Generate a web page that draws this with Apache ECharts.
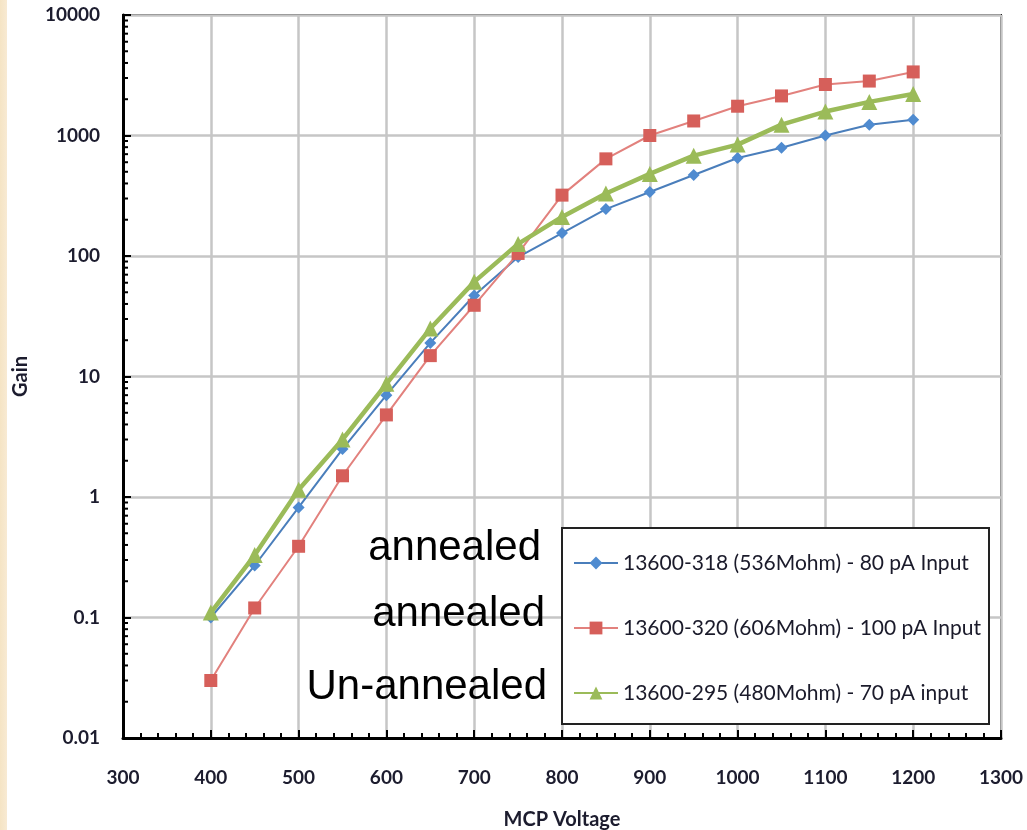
<!DOCTYPE html>
<html>
<head>
<meta charset="utf-8">
<script src="https://cdn.jsdelivr.net/npm/echarts@6/dist/echarts.min.js"></script>
<style>
  html, body { margin: 0; padding: 0; overflow: hidden; }
  body { width: 1027px; height: 830px; background: linear-gradient(to right, #f5e4c4 0px, #f8ead3 7px, #ffffff 7px); }
  #chart { width: 1027px; height: 830px; }
</style>
</head>
<body>
<div id="chart"></div>
<script>
// ---- data ----
const voltages = [400, 450, 500, 550, 600, 650, 700, 750, 800, 850, 900, 950, 1000, 1050, 1100, 1150, 1200];
const gain318 = [0.10, 0.27, 0.82, 2.5, 7.0, 19, 47, 98, 155, 245, 340, 470, 650, 790, 1000, 1230, 1350];
const gain320 = [0.030, 0.12, 0.39, 1.5, 4.8, 14.9, 39, 105, 320, 640, 1000, 1320, 1750, 2130, 2650, 2830, 3370];
const gain295 = [0.11, 0.33, 1.15, 3.0, 8.7, 25, 61, 126, 211, 330, 480, 680, 840, 1230, 1580, 1900, 2210];
const seriesNames = [
  '13600-318 (536Mohm) - 80 pA Input',
  '13600-320 (606Mohm) - 100 pA Input',
  '13600-295 (480Mohm) - 70 pA input'
];
const annotations = ['annealed', 'annealed', 'Un-annealed'];
const yTickLabels = ['0.01', '0.1', '1', '10', '100', '1000', '10000'];
const yDecades = [0.01, 0.1, 1, 10, 100, 1000];
const minorMultipliers = [2, 3, 4, 5, 6, 7, 8, 9];
const xLabelName = 'MCP Voltage';
const yLabelName = 'Gain';

const pair = (ys) => voltages.map((v, i) => [v, ys[i]]);
const minorTickData = [];
yDecades.forEach(d => minorMultipliers.forEach(m => minorTickData.push([300, m * d])));

const chart = echarts.init(document.getElementById('chart'), null, { renderer: 'canvas' });
const labelFont = { fontFamily: 'Lato', fontWeight: 'bold', color: '#1c1c2e' };
const annoFont = '42px "Liberation Sans", Arial, sans-serif';

const option = {
  animation: false,
  backgroundColor: 'transparent',
  grid: { left: 123, top: 15, width: 878, height: 723, show: true, borderColor: '#222', borderWidth: 2, backgroundColor: 'transparent', containLabel: false, outerBoundsMode: 'none' },
  xAxis: {
    type: 'value', min: 300, max: 1300, interval: 100,
    name: xLabelName, nameLocation: 'middle', nameGap: 72,
    nameTextStyle: Object.assign({ fontSize: 20 }, labelFont),
    axisLine: { show: true, lineStyle: { color: '#000', width: 3 } },
    axisTick: { show: true, inside: true, length: 8, lineStyle: { color: '#000', width: 2 } },
    minorTick: { show: true, splitNumber: 5, length: 5, lineStyle: { color: '#000', width: 2 } },
    axisLabel: Object.assign({ fontSize: 19, margin: 30, formatter: (v) => String(v) }, labelFont),
    splitLine: { show: true, lineStyle: { color: '#c6c6c6', width: 2.5 } }
  },
  yAxis: {
    type: 'log', logBase: 10, min: 0.01, max: 10000,
    name: yLabelName, nameLocation: 'middle', nameGap: 92, nameRotate: 90,
    nameTextStyle: Object.assign({ fontSize: 20 }, labelFont),
    axisLine: { show: true, lineStyle: { color: '#000', width: 3 } },
    axisTick: { show: true, inside: true, length: 8, lineStyle: { color: '#000', width: 2 } },
    axisLabel: Object.assign({
      fontSize: 19, margin: 23, padding: [6, 0, 0, 0],
      formatter: (v) => {
        const idx = Math.round(Math.log10(v)) + 2;
        return yTickLabels[idx] !== undefined ? yTickLabels[idx] : '';
      }
    }, labelFont),
    splitLine: { show: true, lineStyle: { color: '#c6c6c6', width: 2.5 } }
  },
  legend: {
    show: true, orient: 'vertical', left: 568, top: 545, z: 20,
    itemWidth: 44, itemHeight: 16, itemGap: 39,
    textStyle: { fontFamily: 'Lato', fontSize: 21, color: '#1a1a2a', lineHeight: 26 },
    data: seriesNames
  },
  graphic: [
    { type: 'rect', shape: { x: 562, y: 528, width: 427, height: 196 }, style: { fill: '#fff', stroke: '#222', lineWidth: 2 }, z: 5, silent: true },
    { type: 'text', x: 541, y: 569, style: { text: annotations[0], font: annoFont, fill: '#000', textAlign: 'right', textVerticalAlign: 'bottom' }, z: 20 },
    { type: 'text', x: 545, y: 635, style: { text: annotations[1], font: annoFont, fill: '#000', textAlign: 'right', textVerticalAlign: 'bottom' }, z: 20 },
    { type: 'text', x: 547, y: 708, style: { text: annotations[2], font: annoFont, fill: '#000', textAlign: 'right', textVerticalAlign: 'bottom' }, z: 20 }
  ],
  series: [
    {
      name: seriesNames[0], type: 'line', data: pair(gain318),
      symbol: 'diamond', symbolSize: 12,
      lineStyle: { color: '#4a7ebb', width: 2 },
      itemStyle: { color: '#4f8bd0' }, z: 3
    },
    {
      name: seriesNames[1], type: 'line', data: pair(gain320),
      symbol: 'rect', symbolSize: 13,
      lineStyle: { color: '#e2817d', width: 2 },
      itemStyle: { color: '#d65f5a' }, z: 3
    },
    {
      name: seriesNames[2], type: 'line', data: pair(gain295),
      symbol: 'triangle', symbolSize: 16,
      lineStyle: { color: '#9bbb59', width: 4.5 },
      itemStyle: { color: '#9bbb59' }, z: 4
    },
    {
      type: 'custom', silent: true, clip: false, z: 6,
      data: minorTickData,
      renderItem: (params, api) => {
        const p = api.coord([api.value(0), api.value(1)]);
        return { type: 'line', shape: { x1: p[0], y1: p[1], x2: p[0] + 5, y2: p[1] }, style: { stroke: '#000', lineWidth: 2 } };
      }
    }
  ]
};
chart.setOption(option);
</script>
</body>
</html>
